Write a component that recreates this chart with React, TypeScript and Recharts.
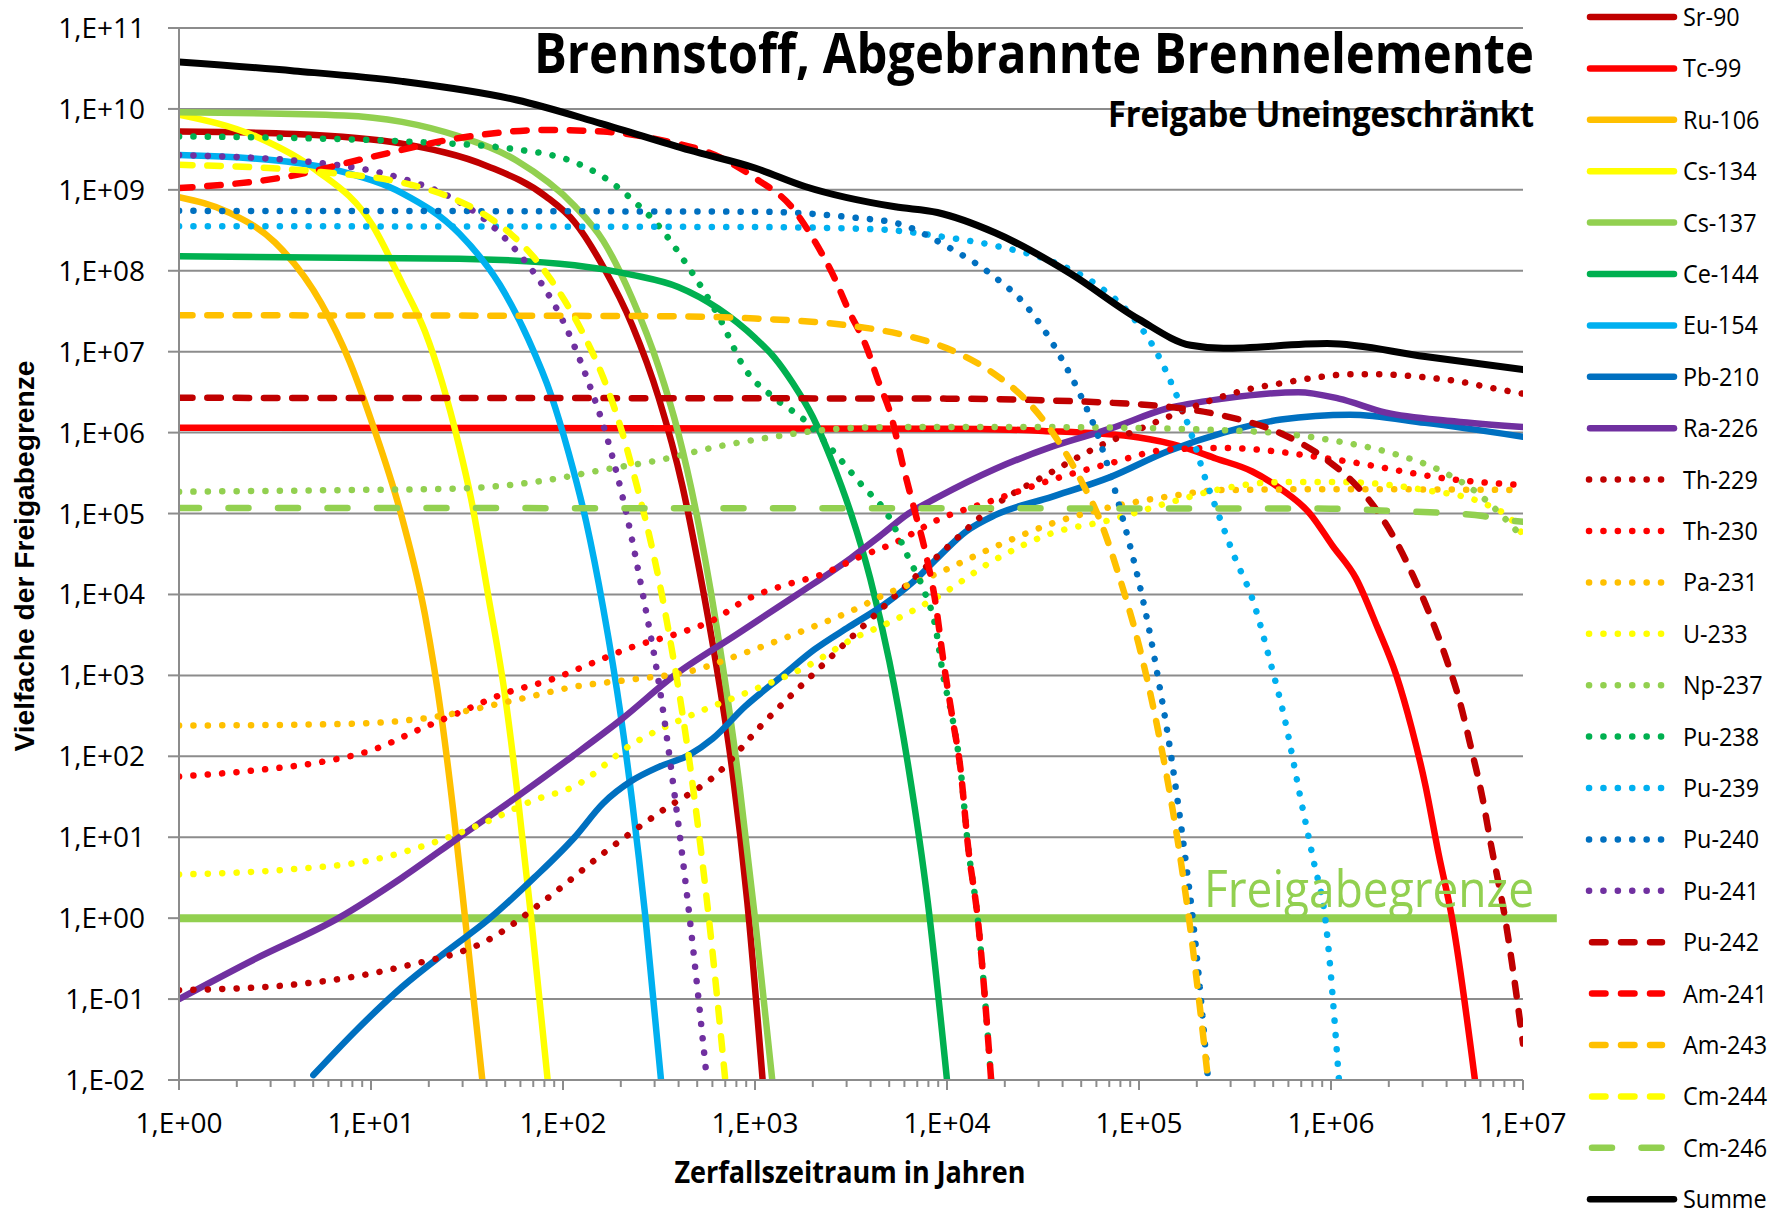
import { LineChart, Line, XAxis, YAxis, CartesianGrid, ReferenceLine } from "recharts";

// [Jahre, Vielfache der Freigabegrenze]
const sr90 = [[1, 5.25e9], [3.98, 4.9e9], [14.5, 3.72e9], [40.7, 1.95e9], [81.3, 8.32e8], [115, 3.98e8], [162, 1.12e8], [229, 2.14e7], [316, 2.63e6], [417, 2.29e5], [513, 2.0e4], [631, 1.26e3], [759, 70.8], [912, 1.58], [1096, 0.01]];
const tc99 = [[1, 1.15e6], [1e4, 1.12e6], [31623, 1.05e6], [1e5, 8.71e5], [169824, 6.61e5], [251189, 4.79e5], [389045, 3.31e5], [549541, 2.0e5], [776247, 1e5], [1.02e6, 3.98e4], [1.35e6, 1.58e4], [1.74e6, 3980], [2.19e6, 1000], [2.63e6, 224], [3.09e6, 45.7], [3.63e6, 6.31], [4.27e6, 1], [5.62e6, 0.01]];
const ru106 = [[1, 8.13e8], [1.82, 5.25e8], [3.16, 2.24e8], [5.5, 3.98e7], [7.76, 7.41e6], [10.2, 1.26e6], [14.5, 8.91e4], [19.1, 5.62e3], [23.4, 282], [26.9, 20], [30.9, 1], [38, 0.01]];
const cs134 = [[1, 8.5e9], [2.57, 4.47e9], [5.13, 1.78e9], [10.2, 3.63e8], [14.5, 7.08e7], [19.1, 1.78e7], [23.4, 4.27e6], [28.8, 6.76e5], [33.1, 1.58e5], [40.7, 1e4], [50.1, 525], [57.5, 39.8], [67.6, 1.26], [83.2, 0.01]];
const cs137 = [[1, 9.1e9], [7.24, 8.32e9], [14.5, 6.92e9], [28.8, 4.57e9], [57.5, 2.29e9], [115, 6.31e8], [162, 2.34e8], [229, 4.57e7], [316, 6.31e6], [398, 1e6], [513, 6.61e4], [676, 1.41e3], [832, 41.7], [1000, 1], [1230, 0.01]];
const ce144 = [[1, 1.51e8], [28.8, 1.41e8], [115, 1.17e8], [229, 8.91e7], [398, 6.31e7], [646, 3.39e7], [1000, 1.48e7], [1259, 8.51e6], [1585, 3.98e6], [1995, 1.58e6], [2512, 4.47e5], [3162, 1e5], [3981, 1.58e4], [5012, 1.48e3], [6310, 70.8], [7943, 1.58], [10000, 0.01]];
const eu154 = [[1, 2.69e9], [3.63, 2.24e9], [7.24, 1.66e9], [14.5, 9.12e8], [28.8, 2.88e8], [46.8, 6.76e7], [66.1, 1.41e7], [87.1, 2.82e6], [107, 5.62e5], [132, 7.94e4], [162, 6.76e3], [200, 316], [229, 28.2], [269, 1], [324, 0.01]];
const pb210 = [[5.01, 0.0115], [8.51, 0.0427], [14.5, 0.141], [25.1, 0.398], [40.7, 0.955], [70.8, 3.16], [115, 10], [162, 26.3], [229, 50.1], [316, 74.1], [457, 105], [603, 166], [891, 417], [1380, 977], [2042, 2090], [3090, 3980], [4677, 7410], [6607, 1.41e4], [8913, 2.82e4], [12589, 6.03e4], [17783, 9.55e4], [35481, 1.62e5], [70795, 2.82e5], [141254, 5.89e5], [275423, 1e6], [549541, 1.45e6], [1.26e6, 1.66e6], [3.09e6, 1.32e6], [1e7, 8.91e5]];
const ra226 = [[1, 0.1], [2.51, 0.316], [6.76, 1], [14.5, 3.16], [28.8, 10], [57.5, 31.6], [112, 100], [200, 282], [380, 1000], [794, 3160], [1660, 1e4], [3162, 2.82e4], [4467, 5.25e4], [6310, 1e5], [8913, 1.58e5], [17783, 3.55e5], [35481, 6.76e5], [70795, 1.12e6], [141254, 2.0e6], [275423, 2.63e6], [676083, 3.16e6], [1.1e6, 2.63e6], [1.91e6, 1.78e6], [4.37e6, 1.38e6], [1e7, 1.17e6]];
const th229 = [[1, 0.129], [3.63, 0.148], [14.5, 0.251], [40.7, 0.537], [81.3, 1.7], [162, 6.31], [316, 20], [646, 63.1], [1096, 251], [2188, 1260], [4365, 6030], [8913, 2.95e4], [17783, 1.26e5], [35481, 3.31e5], [61660, 6.76e5], [1e5, 1.1e6], [158489, 1.74e6], [245471, 2.57e6], [363078, 3.39e6], [549541, 4.07e6], [831764, 4.79e6], [1.26e6, 5.25e6], [1.78e6, 5.25e6], [3.16e6, 4.79e6], [4.68e6, 4.27e6], [6.61e6, 3.63e6], [1e7, 3.02e6]];
const th230 = [[1, 56.2], [2.57, 67.6], [5.5, 85.1], [10.2, 120], [17.8, 214], [28.8, 347], [50.1, 603], [87.1, 891], [141, 1410], [229, 2240], [398, 3310], [603, 4790], [891, 8510], [1549, 1.38e4], [2188, 1.74e4], [3548, 2.95e4], [5370, 4.37e4], [8913, 8.32e4], [17783, 1.48e5], [35481, 2.63e5], [70795, 4.17e5], [141254, 6.17e5], [275423, 6.46e5], [1.1e6, 4.57e5], [4.37e6, 2.63e5], [1e7, 2.24e5]];
const pa231 = [[1, 240], [7.24, 251], [20.4, 302], [57.5, 501], [115, 724], [229, 891], [457, 1120], [891, 1910], [1820, 3630], [3548, 7080], [4467, 9330], [8913, 1.82e4], [17783, 3.89e4], [35481, 7.59e4], [70795, 1.2e5], [141254, 1.62e5], [275423, 1.95e5], [1.1e6, 2.0e5], [1e7, 1.95e5]];
const u233 = [[1, 3.47], [3.63, 3.98], [10.2, 5.25], [20.4, 8.32], [40.7, 15.8], [70.8, 28.8], [115, 42.7], [229, 141], [457, 316], [891, 603], [1820, 1260], [3548, 3160], [4467, 3980], [8913, 9330], [17783, 2.69e4], [35481, 5.75e4], [70795, 8.32e4], [141254, 1.35e5], [275423, 2.04e5], [549541, 2.45e5], [1.1e6, 2.45e5], [3.09e6, 1.95e5], [6.17e6, 1.35e5], [9.33e6, 6.92e4], [1e7, 5.37e4]];
const np237 = [[1, 1.86e5], [7.24, 1.95e5], [28.8, 2.04e5], [81.3, 2.57e5], [162, 3.47e5], [316, 4.57e5], [646, 6.76e5], [1259, 8.91e5], [2512, 1.1e6], [5012, 1.17e6], [31623, 1.17e6], [275423, 1.07e6], [549541, 9.77e5], [1.1e6, 7.76e5], [2.19e6, 5.37e5], [3.8e6, 3.31e5], [5.75e6, 1.82e5], [7.59e6, 1e5], [1e7, 5.01e4]];
const pu238 = [[1, 4.57e9], [3.98, 4.37e9], [14.5, 3.98e9], [57.5, 3.16e9], [115, 2.19e9], [162, 1.45e9], [229, 7.59e8], [316, 3.55e8], [457, 1.05e8], [646, 2.75e7], [891, 6.03e6], [1259, 2.69e6], [1820, 1.41e6], [2512, 6.17e5], [3548, 2.34e5], [5012, 8.91e4], [6310, 2.82e4], [7586, 1.12e4], [8710, 3980], [9550, 1000], [10715, 282], [11749, 70.8], [12882, 7.59], [14454, 1], [16982, 0.01]];
const pu239 = [[1, 3.55e8], [1000, 3.47e8], [4467, 3.24e8], [8913, 2.69e8], [17783, 2.04e8], [35481, 1.29e8], [61660, 6.46e7], [87096, 3.16e7], [123027, 1e7], [151356, 3.55e6], [186209, 1e6], [223872, 2.51e5], [263027, 8.91e4], [316228, 2.82e4], [389045, 8910], [478630, 1580], [575440, 282], [691831, 31.6], [812831, 5.01], [933254, 1], [1.1e6, 0.01]];
const pu240 = [[1, 5.5e8], [1000, 5.37e8], [3162, 4.57e8], [5623, 3.8e8], [1e4, 2.0e8], [17783, 8.32e7], [25119, 3.98e7], [31623, 1.95e7], [39811, 7.94e6], [50119, 2.75e6], [60256, 1e6], [70795, 3.09e5], [83176, 7.94e4], [1e5, 1.41e4], [112202, 3980], [125893, 912], [141254, 186], [158489, 29.5], [177828, 3.8], [190546, 1], [229087, 0.01]];
const pu241 = [[1, 2.69e9], [5.5, 2.14e9], [14.5, 1.38e9], [26.9, 7.76e8], [40.7, 3.98e8], [57.5, 1.74e8], [75.9, 7.41e7], [100, 2.4e7], [132, 5.01e6], [170, 8.51e5], [214, 1e5], [263, 8910], [316, 794], [380, 35.5], [457, 1], [562, 0.01]];
const pu242 = [[1, 2.69e6], [1e4, 2.63e6], [31623, 2.51e6], [70795, 2.34e6], [141254, 2.09e6], [275423, 1.62e6], [549541, 9.77e5], [954993, 4.57e5], [1.35e6, 2.24e5], [1.78e6, 1e5], [2.19e6, 4.47e4], [2.69e6, 1.66e4], [3.31e6, 5250], [4.07e6, 1380], [4.68e6, 479], [5.37e6, 126], [6.17e6, 29.5], [6.76e6, 8.91], [8.13e6, 0.891], [1e7, 0.0282]];
const am241 = [[1, 1.05e9], [3.63, 1.45e9], [10.2, 2.57e9], [28.8, 4.37e9], [81.3, 5.5e9], [162, 5.25e9], [316, 4.17e9], [646, 2.57e9], [1023, 1.35e9], [1549, 6.17e8], [2042, 2.34e8], [2512, 9.55e7], [3090, 3.16e7], [3802, 1.15e7], [4365, 4.47e6], [5129, 1.58e6], [5888, 3.98e5], [6761, 1.12e5], [7762, 3.16e4], [8710, 7940], [9550, 1580], [10715, 282], [11749, 70.8], [12882, 7.59], [14454, 1], [16982, 0.01]];
const am243 = [[1, 2.82e7], [316, 2.75e7], [1000, 2.57e7], [3162, 2.09e7], [5623, 1.66e7], [1e4, 1.1e7], [17783, 5.25e6], [25119, 2.69e6], [35481, 1e6], [50119, 2.51e5], [63096, 7.94e4], [79433, 1.58e4], [1e5, 2340], [125893, 204], [158489, 9.55], [181970, 1], [229087, 0.01]];
const cm244 = [[1, 2.04e9], [5.5, 1.66e9], [14.5, 1.23e9], [25.1, 8.32e8], [38, 5.13e8], [53.7, 2.82e8], [70.8, 1.45e8], [87.1, 7.59e7], [107, 3.55e7], [132, 1.41e7], [162, 4.79e6], [200, 1.15e6], [245, 2.0e5], [282, 5.25e4], [324, 1.12e4], [372, 1860], [427, 251], [501, 15.8], [575, 1], [700, 0.01]];
const cm246 = [[1, 1.17e5], [1e6, 1.15e5], [2.19e6, 1.07e5], [4.37e6, 1e5], [6.17e6, 9.33e4], [8.13e6, 8.32e4], [1e7, 7.94e4]];
const summe = [[1, 3.8e10], [3.98, 2.95e10], [14.5, 2.19e10], [57.5, 1.29e10], [158, 6.6e9], [457, 3.09e9], [1000, 1.86e9], [1820, 1.1e9], [5370, 6.17e8], [8910, 5.25e8], [17800, 2.95e8], [43700, 9.33e7], [1e5, 2.51e7], [1.86e5, 1.2e7], [2.75e5, 1.1e7], [9.55e5, 1.26e7], [3.09e6, 8.7e6], [1e7, 6.0e6]];

const FREIGABE = 1;
const yTicks = [1e-2, 1e-1, 1, 1e1, 1e2, 1e3, 1e4, 1e5, 1e6, 1e7, 1e8, 1e9, 1e10, 1e11];
const xDecades = [1, 1e1, 1e2, 1e3, 1e4, 1e5, 1e6];
const minorSteps = [1, 2, 3, 4, 5, 6, 7, 8, 9];

const GRID = "#8C8C8C";
const DOT = "0.1 14.3";
const DASH = "13.5 14.8";
const LONGDASH = "20 29.5";

const series = [
  { name: "Sr-90", color: "#C00000", dash: "", data: sr90 },
  { name: "Tc-99", color: "#FF0000", dash: "", data: tc99 },
  { name: "Ru-106", color: "#FFC000", dash: "", data: ru106 },
  { name: "Cs-134", color: "#FFFF00", dash: "", data: cs134 },
  { name: "Cs-137", color: "#92D050", dash: "", data: cs137 },
  { name: "Ce-144", color: "#00B050", dash: "", data: ce144 },
  { name: "Eu-154", color: "#00B0F0", dash: "", data: eu154 },
  { name: "Pb-210", color: "#0070C0", dash: "", data: pb210 },
  { name: "Ra-226", color: "#7030A0", dash: "", data: ra226 },
  { name: "Th-229", color: "#C00000", dash: DOT, data: th229 },
  { name: "Th-230", color: "#FF0000", dash: DOT, data: th230 },
  { name: "Pa-231", color: "#FFC000", dash: DOT, data: pa231 },
  { name: "U-233", color: "#FFFF00", dash: DOT, data: u233 },
  { name: "Np-237", color: "#92D050", dash: DOT, data: np237 },
  { name: "Pu-238", color: "#00B050", dash: DOT, data: pu238 },
  { name: "Pu-239", color: "#00B0F0", dash: DOT, data: pu239 },
  { name: "Pu-240", color: "#0070C0", dash: DOT, data: pu240 },
  { name: "Pu-241", color: "#7030A0", dash: DOT, data: pu241 },
  { name: "Pu-242", color: "#C00000", dash: DASH, data: pu242 },
  { name: "Am-241", color: "#FF0000", dash: DASH, data: am241 },
  { name: "Am-243", color: "#FFC000", dash: DASH, data: am243 },
  { name: "Cm-244", color: "#FFFF00", dash: DASH, data: cm244 },
  { name: "Cm-246", color: "#92D050", dash: LONGDASH, data: cm246 },
  { name: "Summe", color: "#000000", dash: "", data: summe },
];

const xTicks = [...xDecades.flatMap((d) => minorSteps.map((m) => m * d)), 1e7];

const toPts = (arr: number[][]) => arr.map(([t, v]) => ({ t, v }));

const isDecade = (v: number) => Math.abs(Math.log10(v) - Math.round(Math.log10(v))) < 1e-6;

const fmtExp = (v: number) => {
  const e = Math.round(Math.log10(v));
  return `1,E${e < 0 ? "-" : "+"}${String(Math.abs(e)).padStart(2, "0")}`;
};

const TICK_FONT = "'Open Sans', 'Noto Sans', sans-serif";

const XTick = ({ x, y, payload }: any) => {
  const major = isDecade(payload.value);
  return (
    <g>
      <line x1={x} x2={x} y1={y} y2={y + (major ? 10 : 7)} stroke={GRID} strokeWidth={2} />
      {major && (
        <text x={x} y={y + 53} textAnchor="middle" fontFamily={TICK_FONT} fontSize={28} fill="#000">
          {fmtExp(payload.value)}
        </text>
      )}
    </g>
  );
};

const YTick = ({ x, y, payload }: any) => (
  <g>
    <line x1={x - 11} x2={x} y1={y} y2={y} stroke={GRID} strokeWidth={2} />
    <text x={x - 34} y={y + 10} textAnchor="end" fontFamily={TICK_FONT} fontSize={28} fill="#000">
      {fmtExp(payload.value)}
    </text>
  </g>
);

function Legend() {
  return (
    <g>
      {series.map((s, i) => {
        const y = 17 + i * 51.4;
        let x1 = 1590;
        let x2 = 1674;
        if (s.dash === DOT) { x1 = 1589; x2 = 1666; }
        if (s.dash === DASH) { x1 = 1592; x2 = 1662; }
        if (s.dash === LONGDASH) { x1 = 1592; x2 = 1662; }
        return (
          <g key={s.name}>
            <line x1={x1} x2={x2} y1={y} y2={y} stroke={s.color} strokeWidth={6.5}
              strokeLinecap="round" strokeDasharray={s.dash === DASH ? "13.5 15.5" : s.dash || undefined} />
            <text transform={`translate(1683 ${y + 9}) scale(0.9 1)`} fontFamily={TICK_FONT} fontSize={26} fill="#000">{s.name}</text>
          </g>
        );
      })}
    </g>
  );
}

export default function App() {
  return (
    <div style={{ position: "relative", width: 1781, height: 1218, background: "#fff" }}>
      <style>{"body{margin:0}"}</style>
      <LineChart width={1781} height={1218} margin={{ top: 28, right: 258, bottom: 0, left: 0 }}>
        <CartesianGrid vertical={false} stroke={GRID} strokeWidth={2} />
        <XAxis
          dataKey="t"
          type="number"
          scale="log"
          domain={[1, 1e7]}
          ticks={xTicks}
          interval={0}
          allowDataOverflow
          tick={(p: any) => <XTick {...p} />}
          tickLine={false}
          tickSize={0}
          tickMargin={0}
          height={138}
          axisLine={{ stroke: GRID, strokeWidth: 2 }}
        />
        <YAxis
          type="number"
          scale="log"
          domain={[1e-2, 1e11]}
          ticks={yTicks}
          interval={0}
          allowDataOverflow
          tick={(p: any) => <YTick {...p} />}
          tickLine={false}
          tickSize={0}
          tickMargin={0}
          width={179}
          axisLine={{ stroke: GRID, strokeWidth: 2 }}
        />
        <ReferenceLine
          segment={[{ x: 1, y: FREIGABE }, { x: 1.5e7, y: FREIGABE }]}
          stroke="#92D050"
          strokeWidth={8}
          ifOverflow="visible"
        />
        {series.map((s) => (
          <Line
            key={s.name}
            name={s.name}
            data={toPts(s.data)}
            dataKey="v"
            type="monotone"
            stroke={s.color}
            strokeWidth={s.name === "Summe" ? 7 : 6.5}
            strokeDasharray={s.dash || undefined}
            strokeLinecap="round"
            strokeLinejoin="round"
            dot={false}
            activeDot={false}
            isAnimationActive={false}
          />
        ))}
      </LineChart>
      <svg width={1781} height={1218} style={{ position: "absolute", left: 0, top: 0, pointerEvents: "none" }}>
        <text x={1534} y={73} textAnchor="end" fontFamily={TICK_FONT} fontWeight={700} fontSize={56}
          textLength={1000} lengthAdjust="spacingAndGlyphs">Brennstoff, Abgebrannte Brennelemente</text>
        <text x={1534} y={127} textAnchor="end" fontFamily={TICK_FONT} fontWeight={700} fontSize={36}
          textLength={426} lengthAdjust="spacingAndGlyphs">Freigabe Uneingeschränkt</text>
        <text x={1534} y={907} textAnchor="end" fontFamily={TICK_FONT} fontSize={52} fill="#92D050"
          textLength={330} lengthAdjust="spacingAndGlyphs">Freigabegrenze</text>
        <text transform="translate(34 556) rotate(-90)" textAnchor="middle" fontFamily="'Liberation Sans', Arial, sans-serif"
          fontWeight="bold" fontSize={28} textLength={391} lengthAdjust="spacingAndGlyphs">Vielfache der Freigabegrenze</text>
        <text x={850} y={1183} textAnchor="middle" fontFamily={TICK_FONT} fontWeight={700} fontSize={30}
          textLength={351} lengthAdjust="spacingAndGlyphs">Zerfallszeitraum in Jahren</text>
        <Legend />
      </svg>
    </div>
  );
}
